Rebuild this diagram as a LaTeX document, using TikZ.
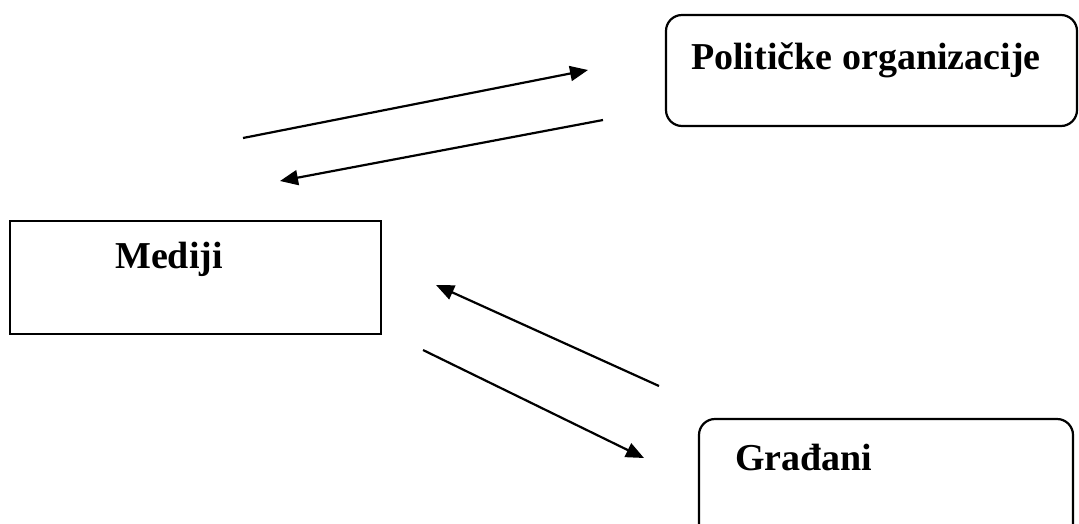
\documentclass[tikz,border=0pt]{standalone}
\usepackage{fontspec}
\setmainfont{Liberation Serif}
\usetikzlibrary{arrows.meta}
\begin{document}
\begin{tikzpicture}[x=1pt,y=-1pt,
  boxline/.style={draw=black,line width=2.2pt},
  lbl/.style={anchor=base west,inner sep=0pt,font=\fontsize{38}{44}\selectfont\bfseries},
  conn/.style={line width=2.2pt,-{Triangle[length=18pt,width=15pt]}}]
\useasboundingbox (0,0) rectangle (1079,523);
% boxes
\draw[boxline,rounded corners=16pt] (666,15) rectangle (1077,126);
\node[lbl] (pol) at (691,69) {Političke organizacije};
\draw[boxline] (10,221) rectangle (381,334);
\node[lbl] (med) at (115,268) {Mediji};
\draw[boxline,rounded corners=16pt] (699,419) rectangle (1073,560);
\node[lbl] (gra) at (735,470) {Građani};
% arrow end points
\coordinate (a1s) at (243,138);
\coordinate (a1e) at (588,70);
\coordinate (a2s) at (603,120);
\coordinate (a2e) at (280,181);
\coordinate (a3s) at (659,386);
\coordinate (a3e) at (436,285);
\coordinate (a4s) at (423,350);
\coordinate (a4e) at (644,458);
\draw[conn] (a1s) -- (a1e);
\draw[conn] (a2s) -- (a2e);
\draw[conn] (a3s) -- (a3e);
\draw[conn] (a4s) -- (a4e);
\end{tikzpicture}
\end{document}
